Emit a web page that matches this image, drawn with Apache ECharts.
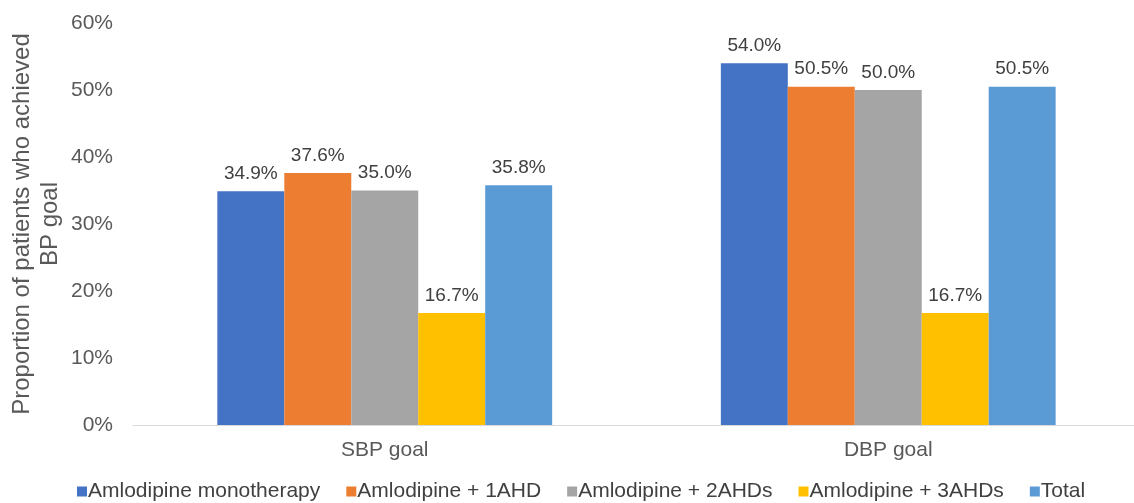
<!DOCTYPE html>
<html>
<head>
<meta charset="utf-8">
<script src="https://cdn.jsdelivr.net/npm/echarts@6/dist/echarts.min.js"></script>
<style>
  html, body { margin: 0; padding: 0; background: #ffffff; }
  #chart { width: 1134px; height: 503px; }
</style>
</head>
<body>
<div id="chart"></div>
<script>
// Goal categories on the x axis
const categories = ['SBP goal', 'DBP goal'];

// Treatment groups (one bar series each)
const seriesNames = [
  'Amlodipine monotherapy',
  'Amlodipine + 1AHD',
  'Amlodipine + 2AHDs',
  'Amlodipine + 3AHDs',
  'Total'
];

// Percent of patients reaching goal, per group: [SBP, DBP]
const monotherapy = [34.9, 54.0];
const plus1AHD = [37.6, 50.5];
const plus2AHDs = [35.0, 50.0];
const plus3AHDs = [16.7, 16.7];
const total = [35.8, 50.5];

const seriesValues = [monotherapy, plus1AHD, plus2AHDs, plus3AHDs, total];
const seriesColors = ['#4472C4', '#ED7D31', '#A5A5A5', '#FFC000', '#5B9BD5'];

const fontFamily = '"Liberation Sans", Arial, sans-serif';
const textColor = '#595959';

const chart = echarts.init(document.getElementById('chart'), null, { renderer: 'canvas' });

chart.setOption({
  animation: false,
  backgroundColor: '#ffffff',
  textStyle: { fontFamily: fontFamily },
  grid: {
    left: 133, top: 23, width: 1007, height: 402,
    containLabel: false,
    outerBoundsMode: 'none'
  },
  legend: {
    data: seriesNames,
    left: 72,
    top: 476,
    icon: 'rect',
    itemWidth: 10,
    itemHeight: 10,
    itemGap: 26,
    textStyle: { fontFamily: fontFamily, fontSize: 21, color: '#404040', padding: [0, 0, 0, -4] }
  },
  xAxis: {
    type: 'category',
    data: categories,
    axisLine: { show: true, lineStyle: { color: '#D9D9D9', width: 1 } },
    axisTick: { show: false },
    axisLabel: { color: textColor, fontSize: 21, margin: 15, fontFamily: fontFamily }
  },
  yAxis: {
    type: 'value',
    min: 0,
    max: 60,
    interval: 10,
    name: 'Proportion of patients who achieved\nBP goal',
    nameLocation: 'middle',
    nameGap: 69,
    nameMoveOverlap: false,
    nameTextStyle: { color: textColor, fontSize: 24, lineHeight: 28, fontFamily: fontFamily },
    axisLine: { show: false },
    axisTick: { show: false },
    splitLine: { show: false },
    axisLabel: {
      color: textColor,
      fontSize: 21,
      margin: 20,
      fontFamily: fontFamily,
      formatter: function (v) { return v + '%'; }
    }
  },
  series: seriesNames.map(function (name, i) {
    return {
      name: name,
      type: 'bar',
      data: seriesValues[i],
      barGap: '0%',
      barCategoryGap: '33.5%',
      itemStyle: { color: seriesColors[i] },
      label: {
        show: true,
        position: 'top',
        distance: 8,
        color: '#404040',
        fontSize: 19,
        fontFamily: fontFamily,
        formatter: function (p) { return p.value.toFixed(1) + '%'; }
      }
    };
  })
});
</script>
</body>
</html>
